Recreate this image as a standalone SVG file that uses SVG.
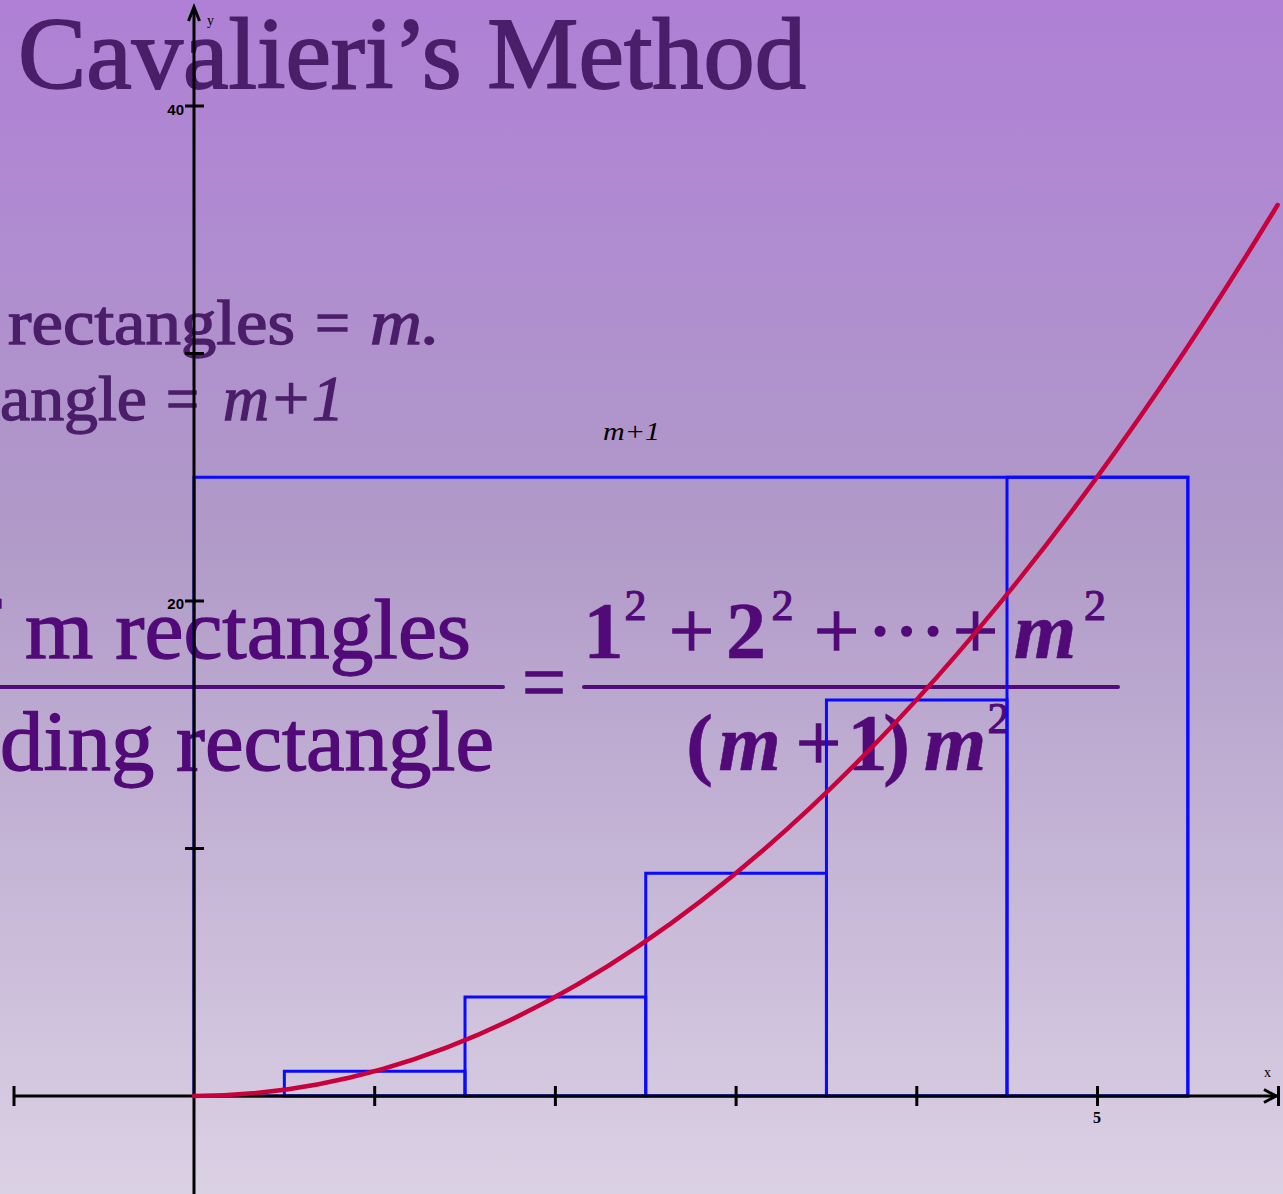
<svg xmlns="http://www.w3.org/2000/svg" width="1283" height="1194" viewBox="0 0 1283 1194">
<defs>
<linearGradient id="bg" x1="0" y1="0" x2="0" y2="1">
<stop offset="0" stop-color="#af80d6"/>
<stop offset="0.45" stop-color="#b09ac8"/>
<stop offset="1" stop-color="#dbd1e4"/>
</linearGradient>
</defs>
<style>
.serif{font-family:"Liberation Serif","Times New Roman",serif}
.head{fill:#4b1e69;stroke:#4b1e69}
.frac{fill:#520a78;stroke:#520a78;stroke-width:1.3}
.math{font-family:"Liberation Serif","Times New Roman",serif;fill:#520a78;stroke:#520a78;text-anchor:middle}
.big{font-size:80px;font-weight:bold;stroke-width:0.6}
.op{font-size:80px;stroke-width:1.6}
.sup{font-size:44px;stroke-width:1.2}
.it{font-style:italic}
.ax{stroke:#000;fill:none;stroke-width:3}
.rect{stroke:#0a0aff;fill:none;stroke-width:3}
.bar{stroke:#520a78;stroke-width:4;stroke-linecap:round}
.lab{font-family:"Liberation Sans",Arial,sans-serif;font-weight:bold;font-size:15px;fill:#000}
</style>
<rect x="0" y="0" width="1283" height="1194" fill="url(#bg)"/>

<g id="title">
<text class="serif head" x="18" y="88" font-size="102" stroke-width="1.8" textLength="788" lengthAdjust="spacingAndGlyphs">Cavalieri’s Method</text>
</g>

<g id="statements" class="serif head" font-size="63" stroke-width="1.3">
<text x="8" y="344" textLength="287" lengthAdjust="spacingAndGlyphs">rectangles</text>
<text x="315" y="344" textLength="35" lengthAdjust="spacingAndGlyphs">=</text>
<text x="370" y="344" font-style="italic" textLength="70" lengthAdjust="spacingAndGlyphs">m.</text>
<text x="0" y="420" textLength="147" lengthAdjust="spacingAndGlyphs">angle</text>
<text x="166" y="420" textLength="33" lengthAdjust="spacingAndGlyphs">=</text>
<text x="223" y="420" font-style="italic" textLength="121" lengthAdjust="spacingAndGlyphs">m+1</text>
</g>

<g id="width-label">
<text class="serif" x="603" y="440" font-size="25" font-style="italic" fill="#000" textLength="57" lengthAdjust="spacingAndGlyphs">m+1</text>
</g>

<g id="ratio-left" class="serif frac" font-size="84">
<text x="-27" y="658">f</text>
<text x="25" y="658" textLength="446" lengthAdjust="spacingAndGlyphs">m rectangles</text>
<line class="bar" x1="-4" y1="687" x2="503" y2="687"/>
<text x="0" y="770" textLength="494" lengthAdjust="spacingAndGlyphs">ding rectangle</text>
<text x="522" y="711" textLength="44" lengthAdjust="spacingAndGlyphs">=</text>
</g>

<g id="ratio-right">
<text class="math big" x="603.5" y="658">1</text>
<text class="math sup" x="635.5" y="620">2</text>
<text class="math op" x="691.5" y="658">+</text>
<text class="math big" x="746" y="658">2</text>
<text class="math sup" x="782.5" y="620">2</text>
<text class="math op" x="836.5" y="658">+</text>
<text class="math op" x="880" y="658">·</text>
<text class="math op" x="906.5" y="658">·</text>
<text class="math op" x="933" y="658">·</text>
<text class="math op" x="975.5" y="658">+</text>
<text class="math big it" x="1045" y="658">m</text>
<text class="math sup" x="1095" y="620">2</text>
<line class="bar" x1="584" y1="687" x2="1118" y2="687"/>
<text class="math big" x="699.5" y="770">(</text>
<text class="math big it" x="749.5" y="770">m</text>
<text class="math op" x="818.5" y="770">+</text>
<text class="math big" x="867.5" y="770">1</text>
<text class="math big" x="896.5" y="770">)</text>
<text class="math big it" x="955" y="770">m</text>
<text class="math sup" x="998.5" y="733">2</text>
</g>

<g id="rectangles">
<rect class="rect" x="284.35" y="1071.25" width="180.65" height="24.75"/>
<rect class="rect" x="465" y="997" width="180.75" height="99"/>
<rect class="rect" x="645.75" y="873.25" width="180.7" height="222.75"/>
<rect class="rect" x="826.45" y="700" width="180.55" height="396"/>
<rect class="rect" x="1007" y="477.25" width="180.85" height="618.75"/>
<rect class="rect" x="194" y="477.25" width="993.85" height="618.75"/>
</g>

<g id="axes">
<line class="ax" x1="194" y1="8" x2="194" y2="1194"/>
<polyline class="ax" stroke-width="2.5" points="188.5,21 194,7 199.5,21"/>
<line class="ax" stroke-width="3.5" x1="13" y1="1096" x2="1277" y2="1096"/>
<polyline class="ax" stroke-width="3.5" points="1264,1089.5 1276,1096 1264,1102.5"/>
<line class="ax" x1="1278.5" y1="1086" x2="1278.5" y2="1106"/>
<line class="ax" stroke-width="2" x1="14" y1="1086" x2="14" y2="1106"/>
<g id="x-ticks">
<line class="ax" x1="374.7" y1="1086" x2="374.7" y2="1106"/>
<line class="ax" x1="555.4" y1="1086" x2="555.4" y2="1106"/>
<line class="ax" x1="736.1" y1="1086" x2="736.1" y2="1106"/>
<line class="ax" x1="916.8" y1="1086" x2="916.8" y2="1106"/>
<line class="ax" x1="1097.5" y1="1086" x2="1097.5" y2="1106"/>
</g>
<g id="y-ticks">
<line class="ax" x1="185" y1="106" x2="204" y2="106"/>
<line class="ax" x1="185" y1="353.5" x2="204" y2="353.5"/>
<line class="ax" x1="185" y1="601" x2="204" y2="601"/>
<line class="ax" x1="185" y1="848.5" x2="204" y2="848.5"/>
</g>
<text class="lab" x="184" y="115" text-anchor="end">40</text>
<text class="lab" x="184" y="609" text-anchor="end">20</text>
<text class="serif" x="1097" y="1123" font-size="16" font-weight="bold" text-anchor="middle">5</text>
<text class="serif" x="207" y="25" font-size="14">y</text>
<text class="serif" x="1264" y="1077" font-size="14">x</text>
</g>

<g id="curve">
<path d="M194,1096 Q735.8,1096 1277.6,205" fill="none" stroke="#c8003c" stroke-width="4.5" stroke-linecap="round"/>
</g>
</svg>
